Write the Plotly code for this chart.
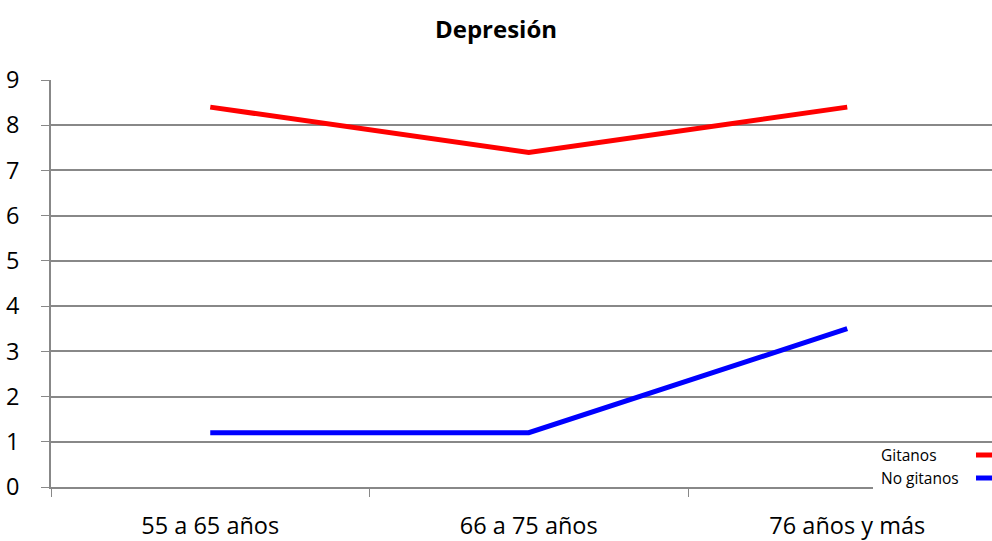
import plotly.graph_objects as go

# Age groups and depression scores per group
categories = ["55 a 65 años", "66 a 75 años", "76 años y más"]
gitanos = [8.4, 7.4, 8.4]
no_gitanos = [1.2, 1.2, 3.5]
series_names = ["Gitanos", "No gitanos"]
series_colors = ["#FF0000", "#0000FF"]
y_ticks = list(range(0, 10))

FONT = "Open Sans, sans-serif"
W, H = 992, 541
L, R, T, B = 51, 0, 80, 54
plot_w = W - L - R
plot_h = H - T - B

fig = go.Figure()
for name, vals, col in zip(series_names, [gitanos, no_gitanos], series_colors):
    fig.add_trace(go.Scatter(
        x=categories, y=vals, name=name, mode="lines",
        line=dict(color=col, width=5), showlegend=False,
    ))

# x-range: one category step is ~318.5 px, the right side is cut at the page edge
step_px = 318.5
x_right = -0.5 + plot_w / step_px

fig.update_layout(
    width=W, height=H,
    margin=dict(l=L, r=R, t=T, b=B, pad=0),
    paper_bgcolor="white", plot_bgcolor="white",
    title=dict(text="<b>Depresión</b>", x=0.5, xanchor="center",
               y=1 - 30 / H, yanchor="middle",
               font=dict(family=FONT, size=24, color="black")),
    xaxis=dict(
        type="category", range=[-0.5, x_right], automargin=False,
        tickson="boundaries", ticks="outside", ticklen=8, tickcolor="#888888",
        showline=True, linecolor="#888888", linewidth=1.5,
        showgrid=False, zeroline=False,
        tickfont=dict(family=FONT, size=23.5, color="black"),
        ticklabelstandoff=17,
    ),
    yaxis=dict(
        range=[0, 9], tickvals=y_ticks, ticks="outside", ticklen=8, automargin=False,
        tickcolor="#888888", showline=True, linecolor="#888888", linewidth=1.5,
        showgrid=True, gridcolor="#888888", gridwidth=1.5, zeroline=False,
        tickfont=dict(family=FONT, size=23.5, color="black"),
        ticklabelstandoff=17,
    ),
)


def px_x(px):
    return (px - L) / plot_w


def px_y(py):
    return (H - B - py) / plot_h


# Legend box sitting inside the lower-right corner of the plot
fig.add_shape(type="rect", xref="paper", yref="paper",
              x0=px_x(873), x1=px_x(1000), y0=px_y(505), y1=px_y(443),
              fillcolor="white", line=dict(width=0), layer="above")
for i, (name, col) in enumerate(zip(series_names, series_colors)):
    ypos = 455 + 23 * i
    fig.add_annotation(xref="paper", yref="paper", x=px_x(879), y=px_y(ypos),
                       text=name, showarrow=False, xanchor="left", yanchor="middle",
                       font=dict(family=FONT, size=15.5, color="black"))
    fig.add_shape(type="line", xref="paper", yref="paper",
                  x0=px_x(976), x1=px_x(995), y0=px_y(ypos), y1=px_y(ypos),
                  line=dict(color=col, width=5), layer="above")

fig.write_html("out.html")
